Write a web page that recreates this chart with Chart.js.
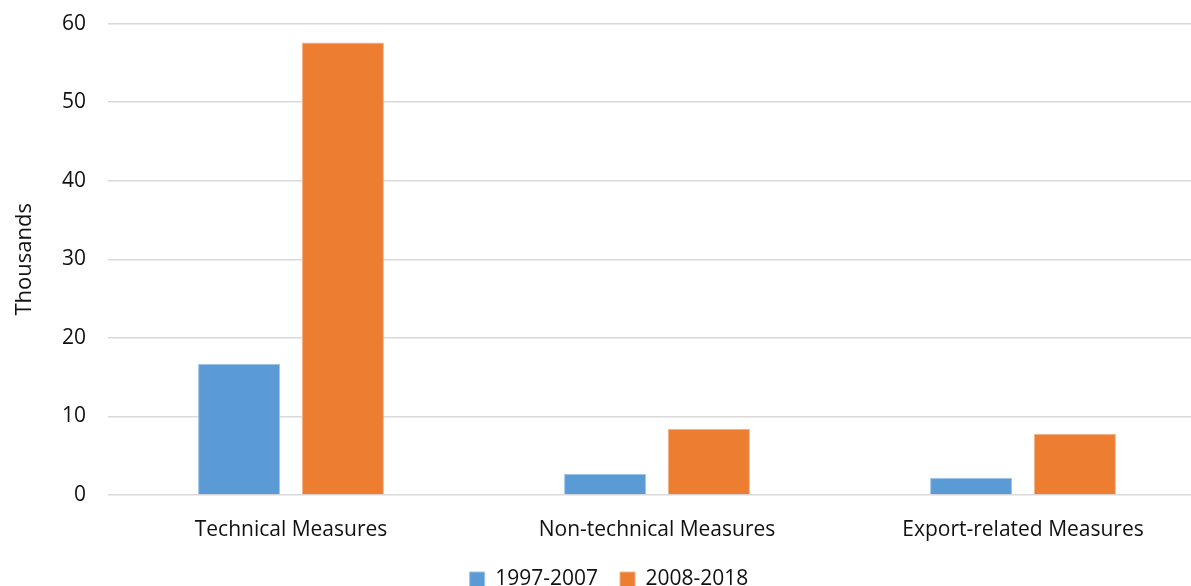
<!DOCTYPE html>
<html>
<head>
<meta charset="utf-8">
<script src="https://cdn.jsdelivr.net/npm/chart.js@4"></script>
<style>
  html, body { margin: 0; padding: 0; background: #fff; overflow: hidden; }
  #wrap { width: 1232px; height: 611px; margin-top: -11px; position: relative; }
</style>
</head>
<body>
<div id="wrap"><canvas id="chart"></canvas></div>
<script>
// Measures counted, in thousands
const categories = ["Technical Measures", "Non-technical Measures", "Export-related Measures"];
const period1Label = "1997-2007";
const period2Label = "2008-2018";
const period1Values = [16.7, 2.7, 2.2];
const period2Values = [57.6, 8.4, 7.8];
const yTicks = [0, 10, 20, 30, 40, 50, 60];

const FONT = "'Open Sans', 'Liberation Sans', sans-serif";
const TEXT = "#111";

new Chart(document.getElementById("chart"), {
  type: "bar",
  data: {
    labels: categories,
    datasets: [
      {
        label: period1Label,
        data: period1Values,
        backgroundColor: "#5b9bd5",
        borderColor: "#9dc3e6",
        borderWidth: 1,
        categoryPercentage: 0.568,
        barPercentage: 0.788,
      },
      {
        label: period2Label,
        data: period2Values,
        backgroundColor: "#ed7d31",
        borderColor: "#f4b183",
        borderWidth: 1,
        categoryPercentage: 0.568,
        barPercentage: 0.788,
      },
    ],
  },
  options: {
    responsive: true,
    maintainAspectRatio: false,
    animation: false,
    layout: { padding: { top: 1, right: 26, left: 12, bottom: 0 } },
    plugins: {
      tooltip: { enabled: false },
      legend: {
        position: "bottom",
        labels: {
          color: TEXT,
          font: { family: FONT, size: 21 },
          boxWidth: 15,
          boxHeight: 15,
          padding: 22,
        },
      },
    },
    scales: {
      x: {
        grid: { display: false },
        border: { display: false },
        ticks: { color: TEXT, font: { family: FONT, size: 21 }, padding: 14 },
        afterFit: (s) => { s.height = 52; },
      },
      y: {
        min: 0,
        max: 60,
        afterBuildTicks: (s) => { s.ticks = yTicks.map((v) => ({ value: v })); },
        grid: { color: "#d9d9d9", lineWidth: 1.5, drawTicks: false },
        border: { display: false },
        ticks: { color: TEXT, font: { family: FONT, size: 21 }, padding: 22 },
        title: { display: true, text: "Thousands", color: TEXT, font: { family: FONT, size: 22 }, padding: 0 },
        afterFit: (s) => { s.width = 96; },
      },
    },
  },
});
</script>
</body>
</html>
